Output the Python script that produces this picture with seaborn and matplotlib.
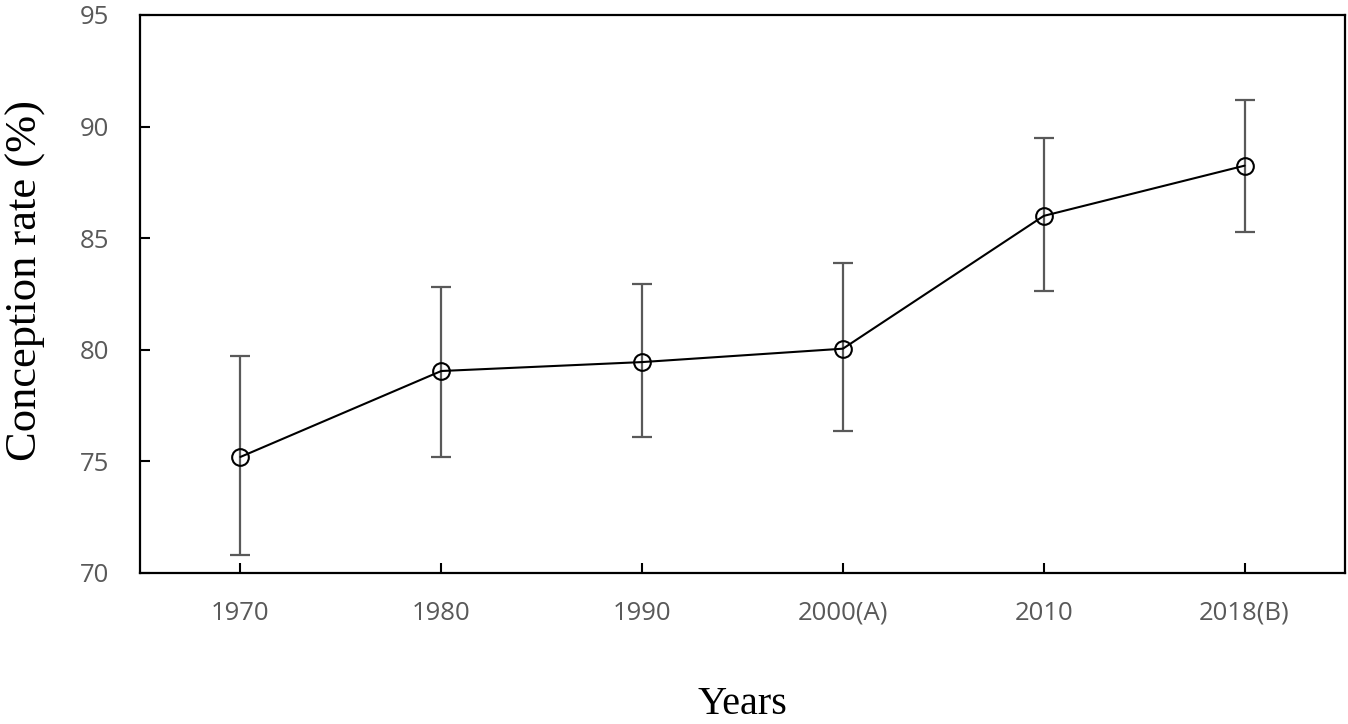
import matplotlib
matplotlib.use("Agg")
import matplotlib.pyplot as plt
import seaborn as sns
import numpy as np
import pandas as pd

years = ["1970", "1980", "1990", "2000(A)", "2010", "2018(B)"]
rate = [75.2, 79.05, 79.45, 80.05, 86.0, 88.25]
err_low = [70.8, 75.2, 76.1, 76.35, 82.65, 85.3]
err_high = [79.7, 82.8, 82.95, 83.9, 89.5, 91.2]

sns.set_theme(style="ticks")
plt.rcParams['font.family'] = ['Open Sans', 'DejaVu Sans']

fig = plt.figure(figsize=(13.48, 7.24), dpi=100)
ax = fig.add_axes([140/1348, 1-573/724, 1205/1348, 558/724])

df = pd.DataFrame({"Years": years, "rate": rate})
pos = np.arange(len(years))
lower = np.array(rate) - np.array(err_low)
upper = np.array(err_high) - np.array(rate)
ax.errorbar(pos, rate, yerr=[lower, upper], fmt='none', ecolor='#595959',
            elinewidth=1.6, capsize=7, capthick=1.6, zorder=2)
sns.lineplot(data=df, x="Years", y="rate", ax=ax, color='black', linewidth=1.5,
             marker='o', markersize=12, markerfacecolor='none',
             markeredgecolor='black', markeredgewidth=1.5, sort=False, zorder=3)

ax.set_xlim(-0.5, 5.5)
ax.set_ylim(70, 95)
ax.set_yticks([70, 75, 80, 85, 90, 95])
ax.set_xticks(pos)
ax.set_xticklabels(years)

for s in ax.spines.values():
    s.set_visible(True)
    s.set_color('black')
    s.set_linewidth(1.6)

ax.tick_params(axis='both', which='major', direction='in', length=7.5, width=1.5,
               color='black', labelcolor='#595959', labelsize=18.5)
ax.tick_params(axis='x', pad=20, bottom=True, top=False)
ax.tick_params(axis='y', pad=22, left=True, right=False)

ax.set_xlabel("Years", fontsize=29, family=['Liberation Serif', 'DejaVu Serif'], color='black')
ax.set_ylabel("Conception rate (%)", fontsize=32, family=['Liberation Serif', 'DejaVu Serif'], color='black')
ax.xaxis.set_label_coords(0.5, -0.203)
ax.yaxis.set_label_coords(-0.078, 0.525)
ax.grid(False)

fig.savefig("out.png", dpi=100)
